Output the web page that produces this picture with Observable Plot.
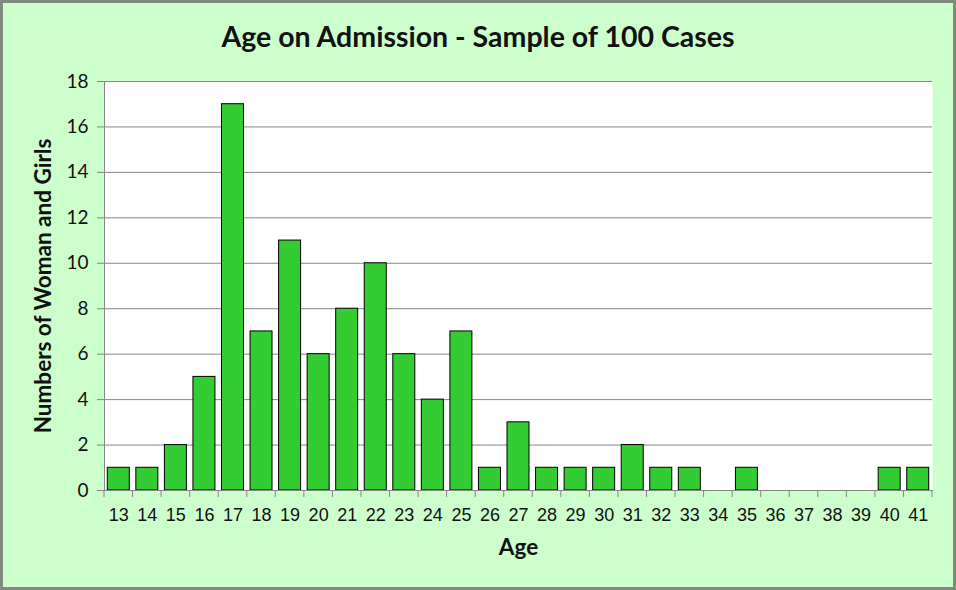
<!DOCTYPE html>
<html>
<head>
<meta charset="utf-8">
<script src="https://cdn.jsdelivr.net/npm/d3@7"></script>
<script src="https://cdn.jsdelivr.net/npm/@observablehq/plot@0.6"></script>
<style>
  html, body { margin: 0; padding: 0; background: #ccffcc; }
  #wrap { position: relative; width: 956px; height: 590px; box-sizing: border-box;
          border: 3px solid #808a80; background: #ccffcc; overflow: hidden; }
  #title { height: 57px; text-align: center; font-family: Lato, "Open Sans", sans-serif;
           font-weight: bold; font-size: 28.5px; line-height: 66px; color: #111; }
  svg { display: block; }
</style>
</head>
<body>
<div id="wrap">
  <div id="title">Age on Admission - Sample of 100 Cases</div>
  <div id="chart"></div>
</div>
<script>
const titleText = "Age on Admission - Sample of 100 Cases";
const xLabel = "Age";
const yLabel = "Numbers of Woman and Girls";
const ages = [13,14,15,16,17,18,19,20,21,22,23,24,25,26,27,28,29,30,31,32,33,34,35,36,37,38,39,40,41];
const counts = [1,1,2,5,17,7,11,6,8,10,6,4,7,1,3,1,1,1,2,1,1,0,1,0,0,0,0,1,1];
const yTicks = [0,2,4,6,8,10,12,14,16,18];

document.getElementById("title").textContent = titleText;
const data = ages.map((a, i) => ({age: a, count: counts[i]}));
const grid = "#868686";

const chart = Plot.plot({
  width: 950, height: 527,
  marginLeft: 101, marginRight: 21, marginTop: 21, marginBottom: 97,
  style: {background: "transparent", overflow: "visible"},
  x: {type: "band", domain: ages, paddingInner: 0.23, paddingOuter: 0.115, round: false, label: null},
  y: {domain: [0, 18], label: null},
  marks: [
    Plot.frame({fill: "white", stroke: null}),
    Plot.gridY(yTicks, {stroke: grid, strokeOpacity: 1}),
    Plot.barY(data.filter(d => d.count > 0), {x: "age", y: "count", fill: "#33cc33", stroke: "black", strokeWidth: 1}),
    Plot.frame({anchor: "left", stroke: grid}),
    Plot.frame({anchor: "bottom", stroke: grid}),
    Plot.axisY(yTicks, {tickSize: 7, tickPadding: 9, stroke: grid, fill: "#111",
      fontSize: 19, fontFamily: "Lato, 'Open Sans', sans-serif", label: null}),
    Plot.axisX(ages, {tickSize: 0, tickPadding: 18, fill: "#111",
      fontSize: 18, fontFamily: "'Liberation Sans', Arial, sans-serif", label: null}),
    Plot.text([xLabel], {frameAnchor: "bottom", dy: 64, fontSize: 22.5, fontWeight: "bold",
      fontFamily: "Lato, 'Open Sans', sans-serif", fill: "#111"}),
    Plot.text([yLabel], {frameAnchor: "left", textAnchor: "middle", dx: -61, rotate: -90, fontSize: 22.5, fontWeight: "bold",
      fontFamily: "Lato, 'Open Sans', sans-serif", fill: "#111"})
  ]
});
document.getElementById("chart").appendChild(chart);

// category-boundary ticks on the x axis, placed with the plot's own band scale
const xs = chart.scale("x");
const gap = (xs.step - xs.bandwidth) / 2;
const bounds = ages.map(a => xs.apply(a) - gap).concat([xs.apply(ages[ages.length - 1]) + xs.bandwidth + gap]);
const yBottom = chart.scale("y").apply(0);
d3.select(chart).append("g")
  .selectAll("line").data(bounds).join("line")
  .attr("x1", d => d).attr("x2", d => d)
  .attr("y1", yBottom).attr("y2", yBottom + 7)
  .attr("stroke", grid);
</script>
</body>
</html>
